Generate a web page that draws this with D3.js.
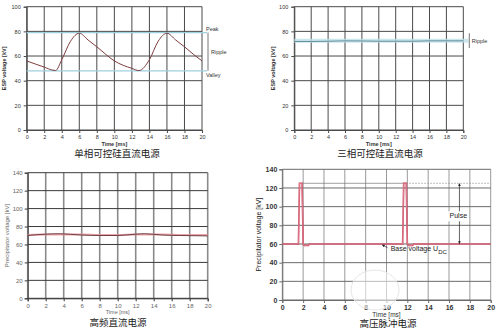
<!DOCTYPE html>
<html>
<head>
<meta charset="utf-8">
<script src="https://cdn.jsdelivr.net/npm/d3@7"></script>
<style>
  body { margin: 0; background: #fff; }
  svg { display: block; }
</style>
</head>
<body>
<svg id="chart" width="500" height="329"></svg>
<script>
// data
const xTicks = [0, 2, 4, 6, 8, 10, 12, 14, 16, 18, 20];
const yTicks100 = [0, 20, 40, 60, 80, 100];
const yTicks140 = [0, 20, 40, 60, 80, 100, 120, 140];

// single phase
const t1 = [0, 1, 2, 3, 3.3, 4, 5, 6, 7, 8, 9, 10, 11, 12, 12.8, 14, 15, 16, 17, 18, 19, 20];
const v1 = [56, 53.5, 51, 48.5, 48.3, 57, 72, 78.5, 73, 67.5, 61.5, 56, 52.5, 50, 48.2, 57, 72, 78.5, 73, 67.5, 61.5, 56];
const peak1 = 79, valley1 = 48;

// three phase
const t2 = [0, 2, 4, 6, 8, 10, 12, 14, 16, 18, 20];
const v2 = [71.8, 71.8, 72, 72.3, 72.2, 72, 72, 72, 72.3, 72.3, 72.3];

// high frequency
const t3 = [0, 2, 3.5, 6, 8, 10, 12, 13, 15, 17, 20];
const v3 = [70, 71.5, 72, 70.5, 70, 70, 71.5, 72, 70.5, 70, 69.5];
const v3band = [70.5, 71, 71, 71, 70.5, 70.5, 71, 71, 71, 70.5, 70.5];

// pulse
const t4 = [0, 1.55, 1.65, 1.9, 2.0, 2.1, 2.5, 2.6, 11.55, 11.65, 11.9, 12.0, 12.1, 12.5, 12.6, 20];
const v4 = [60, 60, 125, 125, 60, 58.5, 58.5, 60, 60, 125, 125, 60, 58.5, 58.5, 60, 60];
const pulseTop = 125, baseV = 60;

const titles = ["单相可控硅直流电源", "三相可控硅直流电源", "高频直流电源", "高压脉冲电源"];

const svg = d3.select("#chart");
const FONT = "Liberation Sans, Arial, sans-serif";

function panel(o) {
  const x = d3.scaleLinear().domain([0, 20]).range([o.l, o.r]);
  const y = d3.scaleLinear().domain([0, o.ymax]).range([o.b, o.t]);
  const g = svg.append("g");

  // grid
  g.selectAll(".vg").data(xTicks).enter().append("line")
    .attr("x1", d => x(d)).attr("x2", d => x(d))
    .attr("y1", o.t).attr("y2", o.b)
    .attr("stroke", o.vgrid).attr("stroke-width", o.vw);
  g.selectAll(".hg").data(o.yt).enter().append("line")
    .attr("x1", o.l).attr("x2", o.r)
    .attr("y1", d => y(d)).attr("y2", d => y(d))
    .attr("stroke", o.hgrid).attr("stroke-width", 1);

  // axes
  const ax = g.append("g").attr("transform", "translate(0," + o.b + ")")
    .call(d3.axisBottom(x).tickValues(xTicks).tickSize(3).tickPadding(o.xpad));
  const ay = g.append("g").attr("transform", "translate(" + o.l + ",0)")
    .call(d3.axisLeft(y).tickValues(o.yt).tickSize(3).tickPadding(o.ypad));
  [ax, ay].forEach(a => {
    a.select(".domain").attr("stroke", o.hgrid);
    a.selectAll(".tick line").attr("stroke", o.hgrid);
    a.selectAll("text").attr("font-family", FONT)
      .attr("font-size", o.fs).attr("fill", o.tc).attr("font-weight", o.fw);
  });

  g.append("text").attr("x", (o.l + o.r) / 2).attr("y", o.b + o.xtY)
    .attr("text-anchor", "middle").attr("font-family", FONT)
    .attr("font-size", o.xtfs).attr("font-weight", o.titleW).attr("fill", o.tc).text("Time [ms]");
  g.append("text")
    .attr("transform", "translate(" + o.ylx + "," + (o.t + o.b) / 2 + ") rotate(-90)")
    .attr("text-anchor", "middle").attr("font-family", FONT)
    .attr("font-size", o.yfs).attr("font-weight", o.titleW).attr("fill", o.ylc || o.tc).text(o.ylabel);
  g.append("text").attr("x", o.cx).attr("y", o.cy)
    .attr("text-anchor", "middle").attr("font-family", "Noto Sans CJK SC, sans-serif")
    .attr("font-size", 9.5).attr("fill", "#222").text(o.title);
  return { x, y, g };
}

const line = (x, y, c) => d3.line().x(d => x(d[0])).y(d => y(d[1])).curve(c || d3.curveLinear);

// panel 1
{
  const { x, y, g } = panel({ l: 26.7, r: 202, t: 6.7, b: 130, ymax: 100, yt: yTicks100,
    vgrid: "#4a4a4a", hgrid: "#4a4a4a", vw: 1, fs: 5.5, fw: "normal", tc: "#333", titleW: "bold",
    xpad: 2, ypad: 3, xtY: 16, xtfs: 5.5, ylx: 6, yfs: 5.5, ylabel: "ESP voltage [kV]",
    title: titles[0], cx: 117, cy: 157 });
  [peak1, valley1].forEach(v => {
    g.append("line").attr("x1", x(0)).attr("x2", x(20) + 5).attr("y1", y(v)).attr("y2", y(v))
      .attr("stroke", "#9fd0de").attr("stroke-width", 1.2);
  });
  g.append("path").datum(d3.zip(t1, v1)).attr("fill", "none").attr("stroke", "#7e3e40")
    .attr("stroke-width", 1).attr("d", line(x, y, d3.curveMonotoneX));
  g.append("line").attr("x1", x(20) + 6).attr("x2", x(20) + 6).attr("y1", y(peak1)).attr("y2", y(valley1))
    .attr("stroke", "#555").attr("stroke-width", 0.8);
  const lab = (t, xx, yy) => g.append("text").attr("x", xx).attr("y", yy)
    .attr("font-family", FONT).attr("font-size", 5.5).attr("fill", "#333").text(t);
  lab("Peak", x(20) + 4, y(peak1) - 2);
  lab("Ripple", x(20) + 9, y((peak1 + valley1) / 2) + 2);
  lab("Valley", x(20) + 4, y(valley1) + 6);
}

// panel 2
{
  const { x, y, g } = panel({ l: 294.3, r: 463.3, t: 6.7, b: 130, ymax: 100, yt: yTicks100,
    vgrid: "#4a4a4a", hgrid: "#4a4a4a", vw: 1, fs: 5.5, fw: "normal", tc: "#333", titleW: "bold",
    xpad: 2, ypad: 3, xtY: 16, xtfs: 5.5, ylx: 275, yfs: 5.5, ylabel: "ESP voltage [kV]",
    title: titles[1], cx: 380, cy: 157 });
  g.append("rect").attr("x", x(0)).attr("width", x(20) - x(0) + 5)
    .attr("y", y(74)).attr("height", y(70.8) - y(74)).attr("fill", "#bfe0ea").attr("opacity", 0.8);
  g.append("path").datum(d3.zip(t2, v2)).attr("fill", "none").attr("stroke", "#5f8f9a")
    .attr("stroke-width", 1).attr("d", line(x, y, d3.curveMonotoneX));
  g.append("line").attr("x1", x(20) + 6).attr("x2", x(20) + 6).attr("y1", y(78.5)).attr("y2", y(66.5))
    .attr("stroke", "#555").attr("stroke-width", 0.8);
  g.append("text").attr("x", x(20) + 8.5).attr("y", y(72.5) + 2)
    .attr("font-family", FONT).attr("font-size", 5.5).attr("fill", "#333").text("Ripple");
}

// panel 3
{
  const { x, y, g } = panel({ l: 27.7, r: 207.7, t: 172.7, b: 298.3, ymax: 140, yt: yTicks140,
    vgrid: "#8a8a8a", hgrid: "#3a3a3a", vw: 1.6, fs: 6, fw: "normal", tc: "#666", titleW: "normal",
    xpad: 2, ypad: 2, xtY: 15.5, xtfs: 5.5, ylx: 9, yfs: 6, ylabel: "Precipitator voltage [kV]",
    title: titles[2], cx: 118, cy: 326 });
  g.append("path").datum(d3.zip(t3, v3band)).attr("fill", "none").attr("stroke", "#e98a96")
    .attr("stroke-width", 2).attr("opacity", 0.8).attr("d", line(x, y, d3.curveMonotoneX));
  g.append("path").datum(d3.zip(t3, v3)).attr("fill", "none").attr("stroke", "#4a2a2a")
    .attr("stroke-width", 0.8).attr("d", line(x, y, d3.curveMonotoneX));
}

// panel 4
{
  const { x, y, g } = panel({ l: 282.3, r: 490.7, t: 169.3, b: 300, ymax: 140, yt: yTicks140,
    vgrid: "#9a9a9a", hgrid: "#6a6a6a", vw: 1, fs: 7, fw: "bold", tc: "#333", titleW: "normal",
    xpad: 2, ypad: 2, xtY: 16.5, xtfs: 6.5, ylx: 261, yfs: 7, ylc: "#222", ylabel: "Precipitator voltage [kV]",
    title: titles[3], cx: 388, cy: 327 });
  g.append("line").attr("x1", x(1.9)).attr("x2", x(11.65)).attr("y1", y(pulseTop)).attr("y2", y(pulseTop))
    .attr("stroke", "#777").attr("stroke-width", 0.7);
  g.append("line").attr("x1", x(11.9)).attr("x2", x(20)).attr("y1", y(pulseTop)).attr("y2", y(pulseTop))
    .attr("stroke", "#888").attr("stroke-width", 0.7).attr("stroke-dasharray", "1.5,1.5");
  g.append("path").datum(d3.zip(t4, v4)).attr("fill", "none").attr("stroke", "#c83a55")
    .attr("stroke-width", 1.6).attr("d", line(x, y));
  g.append("path").datum(d3.zip(t4, v4)).attr("fill", "none").attr("stroke", "#f4b8c2")
    .attr("stroke-width", 0.5).attr("d", line(x, y));

  const defs = svg.append("defs");
  defs.append("marker").attr("id", "ah").attr("viewBox", "0 0 6 6").attr("refX", 5).attr("refY", 3)
    .attr("markerWidth", 4).attr("markerHeight", 4).attr("orient", "auto-start-reverse")
    .append("path").attr("d", "M0,0L6,3L0,6Z").attr("fill", "#222");
  g.append("line").attr("x1", x(17)).attr("x2", x(17)).attr("y1", y(pulseTop) + 0.5).attr("y2", y(baseV) - 0.5)
    .attr("stroke", "#222").attr("stroke-width", 0.7)
    .attr("marker-start", "url(#ah)").attr("marker-end", "url(#ah)");
  g.append("rect").attr("x", x(15.8)).attr("y", y(95)).attr("width", 20).attr("height", 10).attr("fill", "#fff");
  g.append("text").attr("x", x(16.05)).attr("y", y(88)).attr("font-family", FONT)
    .attr("font-size", 7).attr("fill", "#222").text("Pulse");
  g.append("line").attr("x1", x(10.1)).attr("y1", y(56)).attr("x2", x(9.6)).attr("y2", y(59))
    .attr("stroke", "#222").attr("stroke-width", 0.7).attr("marker-end", "url(#ah)");
  const bt = g.append("text").attr("x", x(10.4)).attr("y", y(52)).attr("font-family", FONT)
    .attr("font-size", 7).attr("fill", "#222");
  bt.append("tspan").text("Base voltage U");
  bt.append("tspan").attr("dy", 2.5).attr("font-size", 6).text("DC");

  // watermark blur
  svg.append("ellipse").attr("cx", 375).attr("cy", 290).attr("rx", 24).attr("ry", 20)
    .attr("fill", "#fff").attr("opacity", 0.55);
  svg.append("ellipse").attr("cx", 375).attr("cy", 290).attr("rx", 24).attr("ry", 20)
    .attr("fill", "none").attr("stroke", "#e6e6e6").attr("stroke-width", 1);
}
</script>
</body>
</html>
